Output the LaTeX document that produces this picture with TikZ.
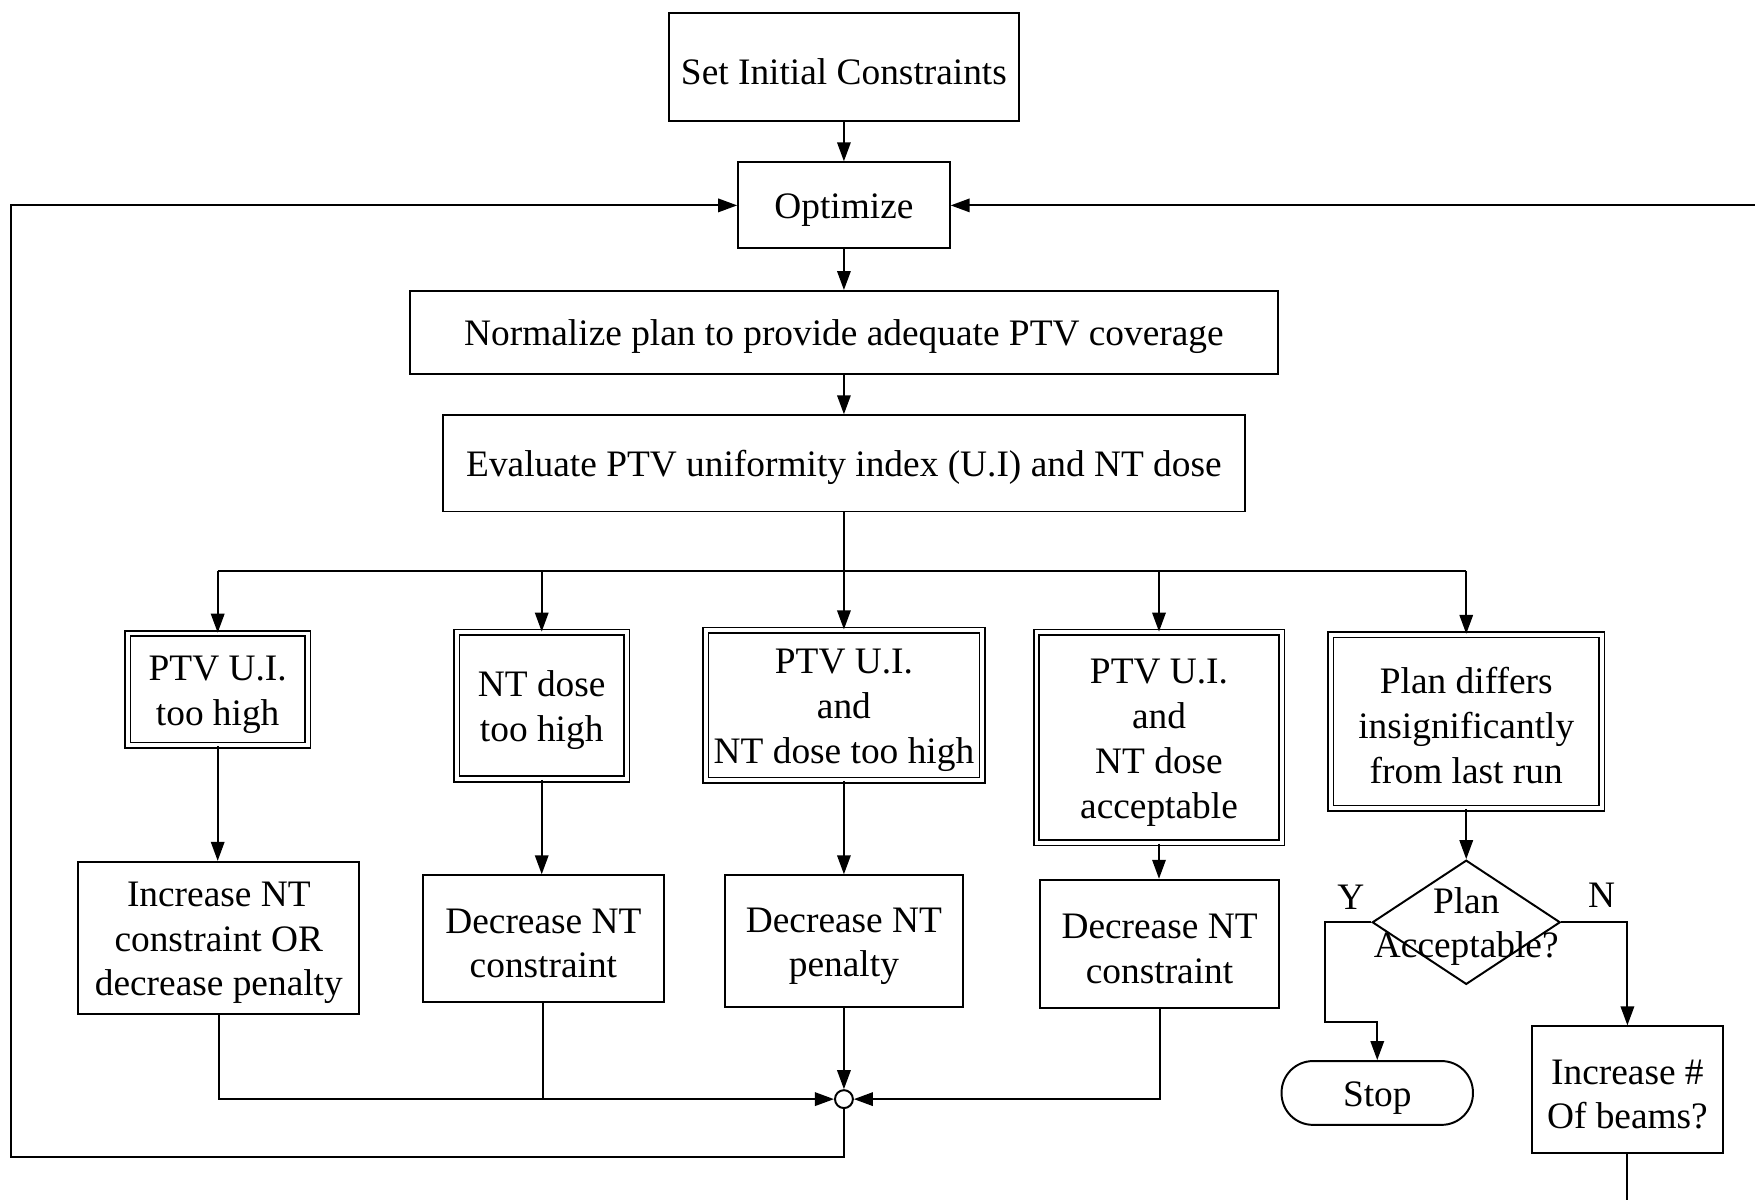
\documentclass[tikz,border=0pt]{standalone}
\usepackage{fontspec}
\setmainfont{Liberation Serif}
\usetikzlibrary{arrows.meta,shapes.geometric}
\newcommand{\lowtext}{\rule{0pt}{17.5pt}}
\begin{document}
\begin{tikzpicture}[x=0.02cm,y=-0.02cm, line width=1pt,
  every node/.style={font=\fontsize{19}{22.8}\selectfont, align=center, inner sep=0pt},
  box/.style={draw, rectangle, line width=1pt},
  dbox/.style={draw, rectangle, double, double distance=2pt, line width=0.8pt},
  arr/.style={-{Triangle[length=0.34cm,width=0.24cm]}}]
\fill[white] (0,0) rectangle (1568,1072);
\useasboundingbox (0,0) rectangle (1568,1072);

% top chain
\node[box, minimum width=6.26cm, minimum height=1.92cm] (sic) at (754,60) {\lowtext Set Initial Constraints};
\node[box, minimum width=3.78cm, minimum height=1.54cm] (opt) at (754,183.5) {\lowtext Optimize};
\node[box, minimum width=15.52cm, minimum height=1.48cm] (norm) at (754,297) {\lowtext Normalize plan to provide adequate PTV coverage};
\node[box, minimum width=14.32cm, minimum height=1.72cm] (eval) at (754,414) {\lowtext Evaluate PTV uniformity index (U.I) and NT dose};

% condition boxes
\node[dbox, minimum width=3.22cm, minimum height=2.00cm] (b1) at (194.5,616) {\lowtext PTV U.I.\\too high};
\node[dbox, minimum width=3.04cm, minimum height=2.62cm] (b2) at (484,630.5) {\lowtext NT dose\\too high};
\node[dbox, minimum width=4.94cm, minimum height=2.68cm] (b3) at (754,630) {\lowtext PTV U.I.\\and\\NT dose too high};
\node[dbox, minimum width=4.38cm, minimum height=3.76cm] (b4) at (1035.5,659) {\lowtext PTV U.I.\\and\\NT dose\\acceptable};
\node[dbox, minimum width=4.84cm, minimum height=3.10cm] (b5) at (1310,644.5) {\lowtext Plan differs\\insignificantly\\from last run};

% action boxes
\node[box, minimum width=5.02cm, minimum height=2.72cm] (a1) at (195.5,838) {\lowtext Increase NT\\constraint OR\\decrease penalty};
\node[box, minimum width=4.30cm, minimum height=2.26cm] (a2) at (485.5,838.5) {\lowtext Decrease NT\\constraint};
\node[box, minimum width=4.26cm, minimum height=2.36cm] (a3) at (754,841) {\lowtext Decrease NT\\penalty};
\node[box, minimum width=4.28cm, minimum height=2.30cm] (a4) at (1036,843.5) {\lowtext Decrease NT\\constraint};

% junction
\node[draw, circle, minimum size=0.32cm, line width=1pt, fill=white] (j) at (754,982) {};

% decision
\node[draw, diamond, minimum width=3.36cm, minimum height=2.22cm, line width=1pt] (dia) at (1310,824) {};
\node (diat) at (1310,824) {\lowtext Plan\\Acceptable?};
\node (ly) at (1207,802) {Y};
\node (ln) at (1431,800) {N};
\node[box, rounded corners=0.56cm, minimum width=3.42cm, minimum height=1.14cm] (stop) at (1230.5,976.5) {\lowtext Stop};
\node[box, minimum width=3.40cm, minimum height=2.26cm] (inc) at (1454,973.5) {\lowtext Increase \#\\Of beams?};

% coordinates
\coordinate (bus) at (754,510);
\coordinate (rin) at (1568,183.5);
\coordinate (lb) at (10,1034);
\coordinate (yk) at (1184,913);
\coordinate (ib) at (1454,1072);

% connectors
\draw[arr] (sic.south) -- (opt.north);
\draw[arr] (opt.south) -- (norm.north);
\draw[arr] (norm.south) -- (eval.north);
\draw[arr] (eval.south) -- (b3.north);
\draw (b1.north |- bus) -- (b5.north |- bus);
\foreach \n in {b1,b2,b4,b5} \draw[arr] (\n.north |- bus) -- (\n.north);
\draw[arr] (b1.south) -- (b1.south |- a1.north);
\draw[arr] (b2.south) -- (b2.south |- a2.north);
\draw[arr] (b3.south) -- (a3.north);
\draw[arr] (b4.south) -- (b4.south |- a4.north);
\draw[arr] (b5.south) -- (dia.north);
\draw[arr] (a1.south) |- (j.west);
\draw (a2.south) -- (a2.south |- j);
\draw[arr] (a3.south) -- (j.north);
\draw[arr] (a4.south) |- (j.east);
\draw[arr] (j.south) |- (lb) |- (opt.west);
\draw[arr] (rin) -- (opt.east);
\draw[arr] (dia.west) -| (yk) -| (stop.north);
\draw[arr] (dia.east) -| (inc.north);
\draw (inc.south) -- (inc.south |- ib);
\end{tikzpicture}
\end{document}
